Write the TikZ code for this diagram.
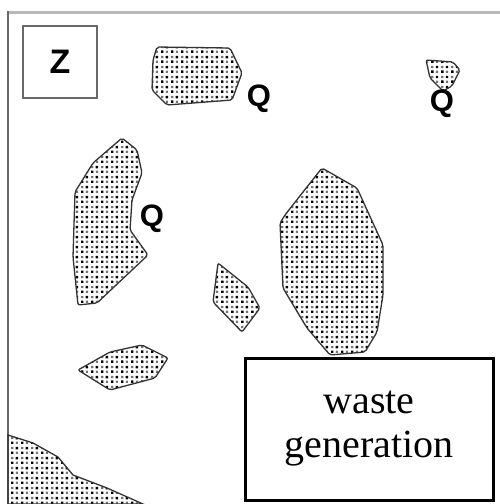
\documentclass[tikz,border=0pt]{standalone}
\usepackage{fontspec}
\setmainfont{Liberation Serif}
\newfontfamily\qfont{Liberation Sans}
\usetikzlibrary{patterns.meta}

\tikzdeclarepattern{
  name=blobdots,
  type=colored,
  bounding box={(0pt,0pt) and (10pt,10pt)},
  tile size={(10pt,10pt)},
  code={
    \fill[black] (1.2pt,1.2pt) rectangle (3.8pt,3.8pt);
    \fill[black] (6.2pt,6.2pt) rectangle (8.8pt,8.8pt);
    \fill[black!55] (6.3pt,1.3pt) rectangle (8.7pt,3.7pt);
    \fill[black!55] (1.3pt,6.3pt) rectangle (3.7pt,8.7pt);
  }
}

\begin{document}
\begin{tikzpicture}[x=1pt, y=-1pt,
  blob/.style={draw=black!80, line width=1.3pt, rounded corners=2pt, pattern=blobdots},
  every node/.style={inner sep=0pt}]
  \definecolor{marcoGris}{RGB}{185,185,185}
  \definecolor{bordeGris}{RGB}{105,105,105}

  \useasboundingbox (0,0) rectangle (500,504);

  \draw[marcoGris, line width=3pt] (7,12) -- (500,12);
  \draw[bordeGris, line width=2pt] (8,11) -- (8,504);

  % patches
  \draw[blob] (157,47) -- (230,48) -- (242,73) -- (232,100) -- (167,105) -- (152,90) -- (153,60) -- cycle;
  \draw[blob] (426,60) -- (453,62) -- (460,70) -- (452,86) -- (443,91) -- (430,78) -- cycle;
  \draw[blob] (122,138) -- (137,150) -- (142,173) -- (132,200) -- (130,230) -- (148,255) -- (97,303) -- (78,305) -- (73,257) -- (75,192) -- (93,163) -- cycle;
  \draw[blob] (322,168) -- (357,188) -- (383,245) -- (383,295) -- (377,332) -- (365,352) -- (330,355) -- (307,328) -- (283,288) -- (280,223) -- (285,215) -- (303,192) -- cycle;
  \draw[blob] (218,263) -- (248,287) -- (260,308) -- (242,332) -- (213,302) -- cycle;
  \draw[blob] (78,370) -- (110,352) -- (142,345) -- (168,358) -- (155,378) -- (110,390) -- cycle;
  \draw[blob, rounded corners=0pt] (8,435) -- (33,443) -- (58,457) -- (73,475) -- (107,488) -- (143,504) -- (8,504) -- cycle;

  \node[draw=bordeGris, line width=1.3pt, minimum width=74pt, minimum height=72pt] (zona) at (60,62) {};
  \node[font=\qfont\bfseries\fontsize{34}{34}\selectfont] (zeta) at (zona.center) {Z};

  \node[font=\qfont\bfseries\fontsize{31}{31}\selectfont] (q1) at (259,99) {Q};
  \node[font=\qfont\bfseries\fontsize{31}{31}\selectfont] (q2) at (152,219) {Q};
  \node[font=\qfont\bfseries\fontsize{31}{31}\selectfont] (q3) at (442,104) {Q};

  \node[draw=black, line width=3pt, minimum width=248pt, minimum height=142pt, align=center,
        font=\fontsize{40}{44}\selectfont] (waste) at (369,429) {waste\\generation};
\end{tikzpicture}
\end{document}
